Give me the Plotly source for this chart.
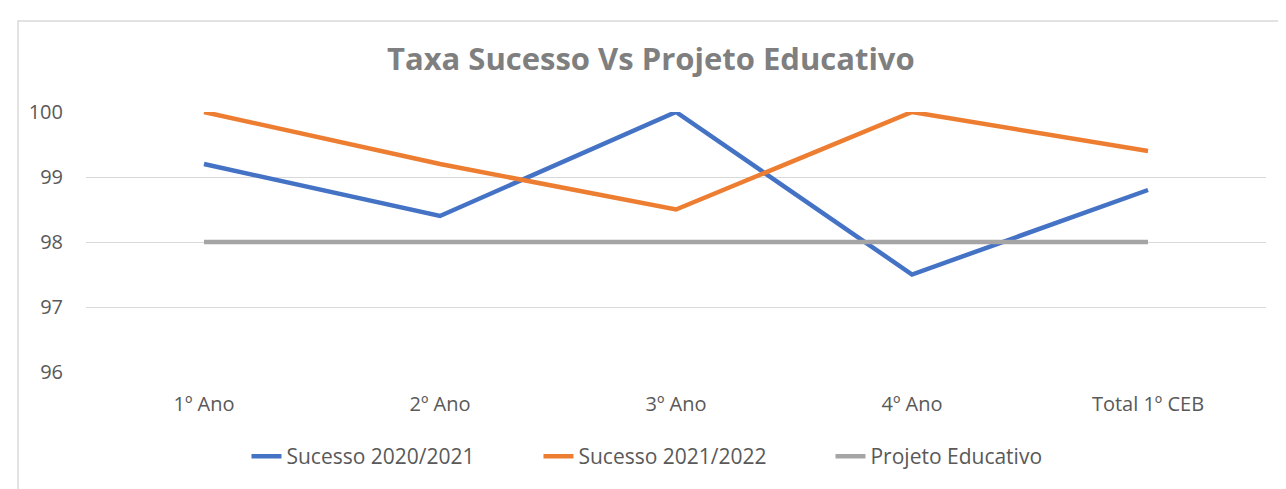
import plotly.graph_objects as go

categories = ["1º Ano", "2º Ano", "3º Ano", "4º Ano", "Total 1º CEB"]
sucesso_2021 = [99.2, 98.4, 100, 97.5, 98.8]
sucesso_2022 = [100, 99.2, 98.5, 100, 99.4]
projeto_educativo = [98, 98, 98, 98, 98]
y_ticks = [96, 97, 98, 99, 100]

FONT = "'Open Sans', Lato, sans-serif"
TXT = "#595959"

fig = go.Figure()
for name, vals, col in [
    ("Sucesso 2020/2021", sucesso_2021, "#4472C4"),
    ("Sucesso 2021/2022", sucesso_2022, "#ED7D31"),
    ("Projeto Educativo", projeto_educativo, "#A5A5A5"),
]:
    fig.add_trace(go.Scatter(x=categories, y=vals, name=name, mode="lines",
                             line=dict(color=col, width=4.5)))

fig.update_layout(
    width=1278, height=481,
    margin=dict(l=78, r=20, t=104, b=117),
    paper_bgcolor="white", plot_bgcolor="white",
    font=dict(family=FONT, color=TXT, size=20),
    title=dict(text="<b>Taxa Sucesso Vs Projeto Educativo</b>", x=0.503, xanchor="center",
               y=0.893, yanchor="middle", font=dict(size=31, color="#7F7F7F", family=FONT)),
    xaxis=dict(type="category", range=[-0.5, 4.5], showgrid=False, showline=False,
               ticks="", ticklabelstandoff=18, tickfont=dict(size=20, color=TXT)),
    yaxis=dict(range=[96, 100], tickvals=y_ticks, showgrid=True, gridcolor="#D9D9D9",
               gridwidth=1.3, zeroline=False, showline=False, ticks="",
               ticklabelstandoff=22, tickfont=dict(size=20, color=TXT)),
    legend=dict(orientation="h", x=0.136, xanchor="left", y=-0.325, yanchor="middle",
                font=dict(size=21, color=TXT), tracegroupgap=0,
                entrywidth=247, entrywidthmode="pixels"),
    shapes=[dict(type="rect", xref="paper", yref="paper",
                 x0=-0.0576, x1=1.03, y0=-0.48, y1=1.35,
                 line=dict(color="#D9D9D9", width=1.5), fillcolor="rgba(0,0,0,0)", layer="below")],
)

fig.write_html("out.html")
